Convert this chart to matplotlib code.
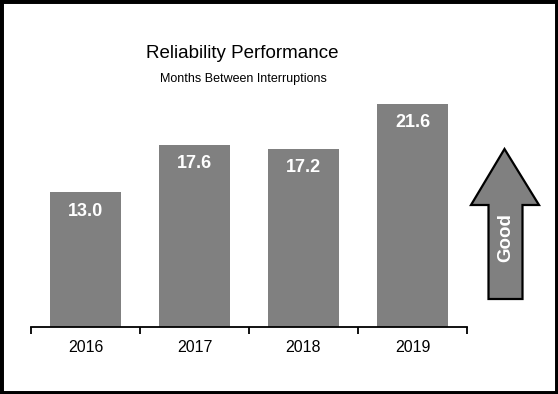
import matplotlib
matplotlib.use("Agg")
from matplotlib import pyplot as plt
from matplotlib.patches import Polygon, Rectangle

years = ["2016", "2017", "2018", "2019"]
months = [13.0, 17.6, 17.2, 21.6]

W, H = 558, 394
plt.rcParams["font.family"] = ["Liberation Sans", "DejaVu Sans"]

fig = plt.figure(figsize=(W / 100, H / 100), dpi=100)
fig.patch.set_facecolor("white")

# axes area in pixels (left, right, bottom-from-top, top-from-top)
ax = fig.add_axes([31 / W, (H - 326.5) / H, 436 / W, 289 / H])
x = list(range(len(years)))
ax.bar(x, months, width=0.65, color="#808080", edgecolor="none")
ax.set_xlim(-0.5, len(years) - 0.5)
ax.set_ylim(0, 28)

for xi, v in zip(x, months):
    ax.annotate(f"{v:.1f}", (xi, v), xytext=(0, -19), textcoords="offset pixels",
                ha="center", va="center", color="white", fontsize=13,
                fontweight="bold")

for s in ["top", "left", "right"]:
    ax.spines[s].set_visible(False)
ax.spines["bottom"].set_linewidth(1.3)
ax.set_yticks([])
ax.set_xticks(x)
ax.set_xticklabels(years, fontsize=11.5)
ax.tick_params(axis="x", which="major", length=0, pad=10)
ax.set_xticks([i - 0.5 for i in range(len(years) + 1)], minor=True)
ax.tick_params(axis="x", which="minor", length=5, width=1.3, direction="out")

fig.text(242.5 / W, 1 - 53 / H, "Reliability Performance", ha="center",
         va="center", fontsize=13.5)
fig.text(243 / W, 1 - 79 / H, "Months Between Interruptions", ha="center",
         va="center", fontsize=9)

# "Good" arrow on the right
arrow_px = [(504.5, 149), (539, 205), (522.5, 205), (522.5, 299),
            (488.5, 299), (488.5, 205), (471, 205)]
arrow = Polygon([(px / W, 1 - py / H) for px, py in arrow_px], closed=True,
                transform=fig.transFigure, facecolor="#808080",
                edgecolor="black", linewidth=1.6)
fig.patches.append(arrow)
fig.text(505.5 / W, 1 - 238 / H, "Good", rotation=90, ha="center", va="center",
         color="white", fontsize=13.5, fontweight="bold")

# outer frame
fig.patches.append(Rectangle((0, 0), 1, 1, transform=fig.transFigure,
                             fill=False, edgecolor="black", linewidth=5))

fig.savefig("out.png", dpi=100)
